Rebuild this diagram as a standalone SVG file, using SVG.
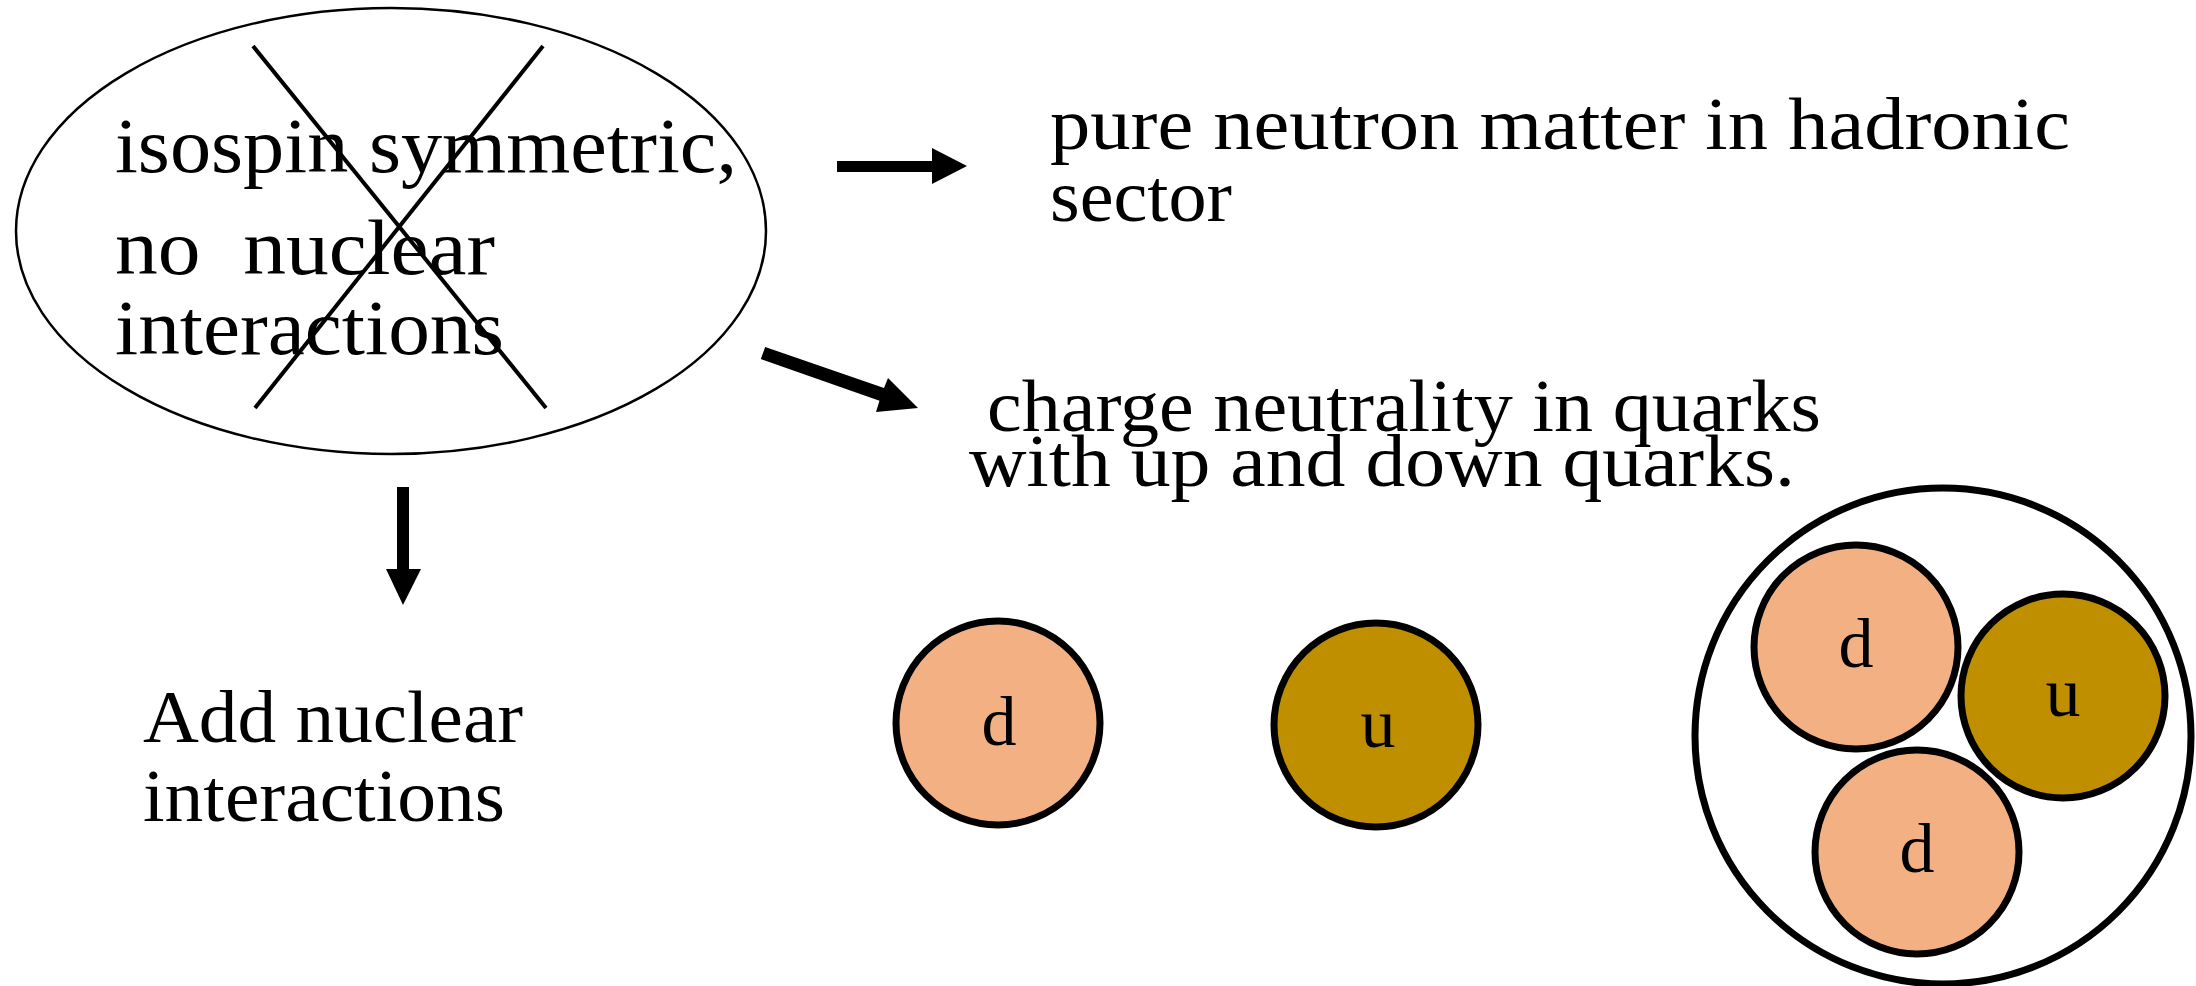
<svg xmlns="http://www.w3.org/2000/svg" width="2196" height="986" viewBox="0 0 2196 986">
<style>
.t{font-family:"Liberation Serif","Times New Roman",serif;fill:#000}
.big{font-size:78px}
.mid{font-size:74px}
.lbl{font-size:70px;text-anchor:middle}
.q{stroke:#000;stroke-width:7}
.dq{fill:#F3B183}
.uq{fill:#BF8F00}
</style>
<rect width="2196" height="986" fill="#fff"/>
<g id="isospin-node">
<ellipse cx="391" cy="231" rx="375" ry="223" fill="none" stroke="#000" stroke-width="2.5"/>
<text class="t big" x="115" y="172" textLength="622" lengthAdjust="spacingAndGlyphs">isospin symmetric,</text>
<text class="t big" x="115" y="274" xml:space="preserve" textLength="380" lengthAdjust="spacingAndGlyphs">no  nuclear</text>
<text class="t big" x="115" y="354" textLength="389" lengthAdjust="spacingAndGlyphs">interactions</text>
<line x1="253" y1="46" x2="546" y2="408" stroke="#000" stroke-width="4"/>
<line x1="543" y1="46" x2="255" y2="408" stroke="#000" stroke-width="4"/>
</g>
<g id="neutron-node">
<text class="t mid" x="1050" y="149" textLength="1020" lengthAdjust="spacingAndGlyphs">pure neutron matter in hadronic</text>
<text class="t mid" x="1050" y="221" textLength="182" lengthAdjust="spacingAndGlyphs">sector</text>
</g>
<g id="charge-node">
<text class="t mid" x="987" y="431" textLength="834" lengthAdjust="spacingAndGlyphs">charge neutrality in quarks</text>
<text class="t mid" x="969" y="486" textLength="826" lengthAdjust="spacingAndGlyphs">with up and down quarks.</text>
</g>
<g id="add-node">
<text class="t mid" x="143" y="742" textLength="380" lengthAdjust="spacingAndGlyphs">Add nuclear</text>
<text class="t mid" x="143" y="821" textLength="362" lengthAdjust="spacingAndGlyphs">interactions</text>
</g>
<g id="quark-d">
<circle class="q dq" cx="998" cy="723" r="102"/>
<text class="t lbl" x="999" y="745">d</text>
</g>
<g id="quark-u">
<circle class="q uq" cx="1376" cy="725" r="102"/>
<text class="t lbl" x="1378" y="747">u</text>
</g>
<g id="nucleon">
<circle cx="1943" cy="736" r="248" fill="none" stroke="#000" stroke-width="7"/>
<circle class="q dq" cx="1856" cy="647" r="102"/>
<text class="t lbl" x="1856" y="667">d</text>
<circle class="q uq" cx="2063" cy="696" r="102"/>
<text class="t lbl" x="2063" y="716">u</text>
<circle class="q dq" cx="1917" cy="852" r="102"/>
<text class="t lbl" x="1917" y="872">d</text>
</g>
<g id="connectors" fill="#000">
<polygon points="837,161 932,161 932,148 967,166 932,184 932,172 837,172"/>
<polygon points="765.2,346.9 884,388 888,378 918,408 876,412 879.5,400.7 760.8,359.1"/>
<polygon points="397,487 409,487 409,569 421,569 403,605 386,569 397,569"/>
</g>
</svg>
